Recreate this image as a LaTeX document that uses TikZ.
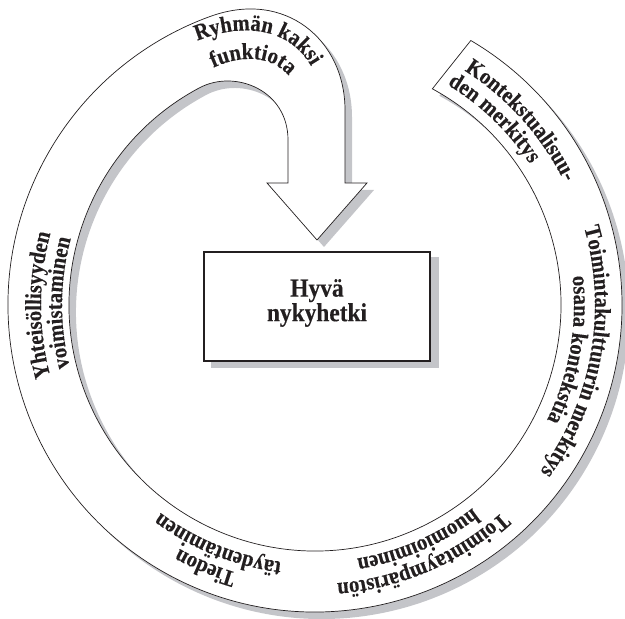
\documentclass[tikz,border=0pt]{standalone}
\usepackage{fontspec}
\setmainfont{Liberation Serif}
\newfontfamily\condserif{Liberation Serif}[FakeStretch=0.9, BoldFeatures={FakeBold=0.25}]
\usetikzlibrary{decorations.text}
\definecolor{shadowgray}{RGB}{196,197,201}
\definecolor{ink}{RGB}{35,31,32}
\newcommand\bandfmt{\condserif\bfseries\fontsize{23pt}{23pt}\selectfont}
\newcommand\bandshape[3]{%
  \path[#1, shift={(#2,#3)}] (470.8,578.5)
    arc[start angle=59.5, end angle=-250, radius=307pt]
    .. controls (285.2,629.9) and (345,579) .. (345,509)
    -- (345,436) -- (367,436) -- (317,379) -- (267,436) -- (288,436) -- (288,479)
    .. controls (288,529) and (235,550) .. (199.5,531.2)
    arc[start angle=118, end angle=421.5, radius=246pt] -- cycle;}
\tikzset{
  bandtext/.style={decorate, decoration={text along path, text color=ink, text align=center, text={|\bandfmt|#1}}},
  bandtextL/.style={decorate, decoration={text along path, text color=ink, text align=left, text={|\bandfmt|#1}}},
  shadowfill/.style={fill=shadowgray, draw=none},
  bandline/.style={fill=white, draw=ink, line width=0.7pt},
  boxline/.style={fill=white, draw=ink, line width=2.4pt},
}
\begin{document}
\begin{tikzpicture}[x=1pt,y=1pt]
\useasboundingbox (0,0) rectangle (625,619);
\coordinate (C) at (315,314);
% band
\bandshape{shadowfill}{7}{-7}
\bandshape{bandline}{0}{0}
% box
\fill[shadowgray] (211,251) rectangle (439,362);
\node[boxline, minimum width=225.6pt, minimum height=108.6pt, inner sep=0pt] (box) at (317,312.5) {};
\node[font=\condserif\bfseries\fontsize{26pt}{23pt}\selectfont, align=center, text=ink, inner sep=0pt] (title) at (317,316) {Hyvä\\nykyhetki};
% labels
\path[bandtextL={Kontekstualisuu-}] ([shift={(C)}]57.5:278pt) arc[start angle=57.5, end angle=0, radius=278pt];
\path[bandtextL={den merkitys}] ([shift={(C)}]59:257pt) arc[start angle=59, end angle=0, radius=257pt];
\path[bandtext={Toimintakulttuurin merkitys}] ([shift={(C)}]35:280pt) arc[start angle=35, end angle=-55.4, radius=280pt];
\path[bandtext={osana kontekstia}] ([shift={(C)}]30:259pt) arc[start angle=30, end angle=-50, radius=259pt];
\path[bandtext={Toimintaympäristön}] ([shift={(C)}]-26.7:279pt) arc[start angle=-26.7, end angle=-106.7, radius=279pt];
\path[bandtext={huomioiminen}] ([shift={(C)}]-26.4:257pt) arc[start angle=-26.4, end angle=-106.4, radius=257pt];
\path[bandtext={Tiedon}] ([shift={(C)}]-82.7:279pt) arc[start angle=-82.7, end angle=-142.7, radius=279pt];
\path[bandtext={täydentäminen}] ([shift={(C)}]-72:259pt) arc[start angle=-72, end angle=-152, radius=259pt];
\path[bandtext={Yhteisöllisyyden}] ([shift={(C)}]220:274pt) arc[start angle=220, end angle=140, radius=274pt];
\path[bandtext={voimistaminen}] ([shift={(C)}]219.5:253pt) arc[start angle=219.5, end angle=139.5, radius=253pt];
\path[bandtext={Ryhmän kaksi}] (170,564) .. controls (230,602) and (305,601) .. (322,524);
\path[bandtext={funktiota}] (185,533) .. controls (230,571) and (290,573) .. (303,513);
\end{tikzpicture}
\end{document}
